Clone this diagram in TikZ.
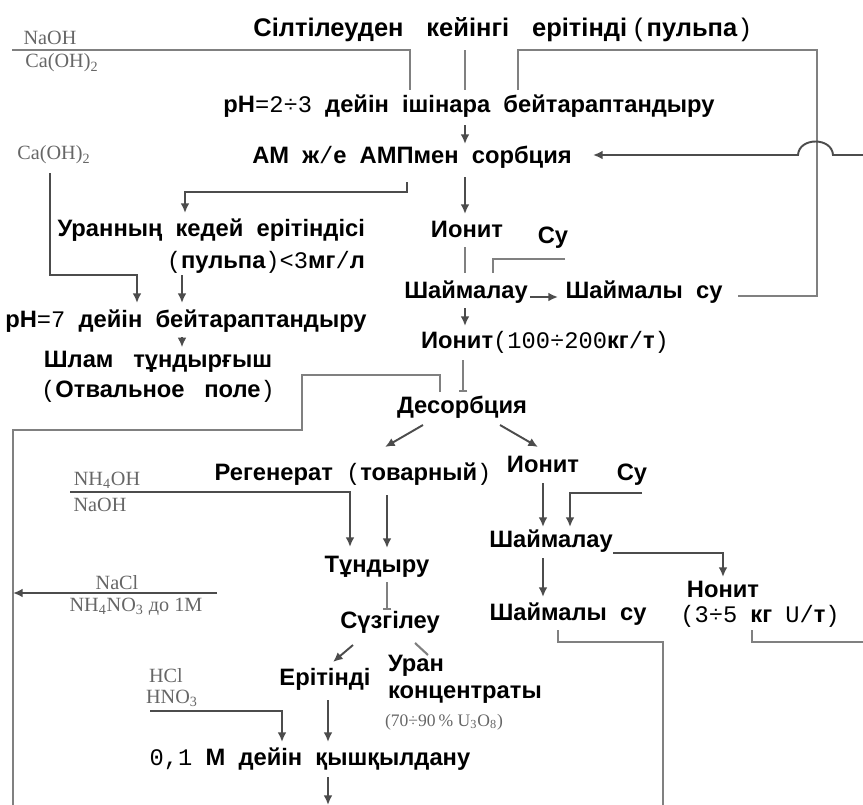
\documentclass[tikz,border=0pt]{standalone}
\usepackage{fontspec}
\setmainfont{Liberation Sans}
\newfontfamily\chemfont{Liberation Serif}
\newfontfamily\numfont{Liberation Mono}
\usetikzlibrary{arrows.meta,calc}

\newcommand{\numtxt}[1]{{\numfont\mdseries #1}}

\begin{document}
\begin{tikzpicture}[
    x=0.02cm, y=-0.02cm,
    proc/.style={font=\bfseries\fontsize{13.5}{18}\selectfont, inner sep=1pt, text height=10pt, text depth=3.3pt},
    procm/.style={font=\bfseries\fontsize{13.5}{18}\selectfont, inner sep=1pt},
    chem/.style={font=\chemfont\fontsize{11.5}{12}\selectfont, text=black!60, inner sep=0pt},
    link/.style={draw=black!50, line width=1.2pt},
    flow/.style={draw=black!70, line width=1.1pt, -{Latex[length=5.5pt,width=5pt]}},
    stub/.style={link, -{Bar[width=5pt]}}
]
\useasboundingbox (0,0) rectangle (863,805);

% feed and neutralisation
\node[proc, font=\bfseries\fontsize{14.5}{18}\selectfont] (title) at (503,31) {Сілтілеуден\hspace{0.9em}кейінгі\hspace{0.9em}ерітінді\,\numtxt{(}пульпа\numtxt{)}};
\node[chem] (naoh1) at (50,38) {NaOH};
\node[chem] (caoh1) at (62,63) {Ca(OH)\textsubscript{2}};
\node[proc] (ph23) at (469,107) {pH\numtxt{=2÷3}\ \ дейін\ \ ішінара\ \ бейтараптандыру};
\node[proc] (sorb) at (412,158) {АМ\ \ ж\numtxt{/}е\ \ АМПмен\ \ сорбция};
\node[chem] (caoh2) at (54,155) {Ca(OH)\textsubscript{2}};

% poor solution branch
\node[procm, align=right, anchor=east] (poor) at (367,246) {Уранның\ \ кедей\ \ ерітіндісі\\\numtxt{(}пульпа\numtxt{)<3}мг\numtxt{/}л};
\node[proc] (ph7) at (186,322) {pH\numtxt{=7}\ \ дейін\ \ бейтараптандыру};
\node[procm, align=center, font=\bfseries\fontsize{13.5}{17}\selectfont] (slime) at (158,377) {Шлам\ \ \ тұндырғыш\\\numtxt{(}Отвальное\ \ \ поле\numtxt{)}};

% loaded resin
\node[proc] (ionit1) at (467,232) {Ионит};
\node[proc] (su1) at (553,238) {Су};
\node[proc] (wash1) at (466,293) {Шаймалау};
\node[proc] (washw1) at (644,293) {Шаймалы\ \ су};
\node[proc] (ionit2) at (545,343) {Ионит\numtxt{(100÷200}кг\numtxt{/}т\numtxt{)}};
\node[proc] (desorb) at (462,408) {Десорбция};

% desorption products
\node[proc] (regen) at (353,475) {Регенерат\ \ \numtxt{(}товарный\numtxt{)}};
\node[proc] (ionit3) at (543,467) {Ионит};
\node[proc] (su2) at (632,475) {Су};
\node[chem] (nh4oh) at (107,480) {NH\textsubscript{4}OH};
\node[chem] (naoh2) at (100,505) {NaOH};
\node[proc] (wash2) at (551,542) {Шаймалау};
\node[proc] (tund) at (377,567) {Тұндыру};
\node[chem] (nacl) at (117,583) {NaCl};
\node[chem] (nh4no3) at (136,607) {NH\textsubscript{4}NO\textsubscript{3} до 1M};
\node[proc] (nonit) at (723,592) {Нонит};
\node[proc] (nonitq) at (760,617) {\numtxt{(3÷5}\ \ кг\ \ \numtxt{U/}т\numtxt{)}};
\node[proc] (washw2) at (568,615) {Шаймалы\ \ су};
\node[proc] (filt) at (390,623) {Сүзгілеу};
\node[proc] (erit) at (325,680) {Ерітінді};
\node[procm, align=left, anchor=north west, font=\bfseries\fontsize{13.5}{15.5}\selectfont] (uran) at (386,653) {Уран\\концентраты};
\node[chem, font=\chemfont\fontsize{10}{11}\selectfont] (u3o8) at (444,722) {(70÷90\,\% U\textsubscript{3}O\textsubscript{8})};
\node[chem] (hcl) at (166,676) {HCl};
\node[chem] (hno3) at (172,698) {HNO\textsubscript{3}};
\node[proc] (acid) at (310,760) {\numtxt{0,1}\ \ М\ \ дейін\ \ қышқылдану};

% free ends
\coordinate (naohin) at (12,50);
\coordinate (recin) at (863,155);
\coordinate (nhin) at (70,492);
\coordinate (naclin) at (217,593);
\coordinate (leftbus) at (13,593);
\coordinate (lowout) at (13,805);
\coordinate (wout) at (663,805);
\coordinate (qout) at (863,642);
\coordinate (hclin) at (150,711);
\coordinate (aout) at (328,805);

% upper part
\draw[link] ($(title)+(-38,19)$) -- ($(ph23)+(-4,-17)$);
\draw[link] (naohin) -| ($(ph23)+(-59,-17)$);
\draw[link] ($(washw1)+(94,3)$) -- ++(79,0) |- ($(ph23)+(49,-57)$) -- ($(ph23)+(49,-17)$);
\draw[flow] ($(ph23)+(-4,18)$) -- ($(sorb)+(53,-14)$);
\draw[flow] (recin) -- (833,155) .. controls (832,137) and (799,137) .. (798,155) -- ($(sorb)+(181,-3)$);
\draw[flow] ($(sorb)+(53,19)$) -- ($(ionit1)+(-2,-18)$);
\draw[flow] ($(sorb)+(-5,24)$) -- ++(0,10) -| ($(poor.east)+(-182,-33)$);
\draw[flow] ($(caoh2)+(-4,18)$) |- ($(ph7)+(-49,-47)$) -- ($(ph7)+(-49,-19)$);
\draw[flow] ($(poor.east)+(-185,29)$) -- ($(ph7)+(-4,-19)$);
\draw[flow] ($(ph7)+(-4,15)$) -- ($(slime.north)+(24,-2)$);

% sorption column
\draw[link] ($(ionit1)+(-2,15)$) -- ($(wash1)+(-1,-20)$);
\draw[link] ($(su1)+(12,21)$) -| ($(wash1)+(27,-20)$);
\draw[flow] ($(wash1)+(64,4)$) -- ($(washw1)+(-86,4)$);
\draw[flow] ($(wash1)+(-1,15)$) -- ($(ionit2)+(-80,-17)$);
\draw[stub] ($(ionit2)+(-82,17)$) -- ($(desorb)+(1,-16)$);
\draw[link] ($(desorb)+(-22,-16)$) -- ++(0,-17) -| ++(-138,55) -| (lowout);

% desorption
\draw[flow] ($(desorb)+(-39,17)$) -- ($(regen)+(32,-28)$);
\draw[flow] ($(desorb)+(38,17)$) -- ($(ionit3)+(-5,-20)$);
\draw[flow] (nhin) -| ($(tund)+(-27,-20)$);
\draw[flow] ($(regen)+(34,20)$) -- ($(tund)+(10,-19)$);
\draw[flow] ($(ionit3)+(0,16)$) -- ($(wash2)+(-8,-15)$);
\draw[flow] ($(su2)+(10,18)$) -| ($(wash2)+(19,-15)$);
\draw[flow] ($(wash2)+(62,11)$) -| ($(nonit)+(0,-15)$);
\draw[flow] ($(wash2)+(-8,16)$) -- ($(washw2)+(-25,-18)$);
\draw[stub] ($(tund)+(10,15)$) -- ($(filt)+(-3,-13)$);
\draw[flow] (naclin) -- (leftbus);
\draw[link] ($(washw2)+(-10,15)$) -- ++(0,12) -| (wout);
\draw[link] ($(nonitq)+(-8,13)$) |- (qout);

% precipitation
\draw[flow] ($(filt)+(-37,22)$) -- ($(erit)+(8,-18)$);
\draw[link] ($(filt)+(25,20)$) -- ($(uran.north west)+(42,2)$);
\draw[flow] (hclin) -| ($(acid)+(-28,-18)$);
\draw[flow] ($(erit)+(3,20)$) -- ($(acid)+(18,-18)$);
\draw[flow] ($(acid)+(18,17)$) -- (aout);

\end{tikzpicture}
\end{document}
